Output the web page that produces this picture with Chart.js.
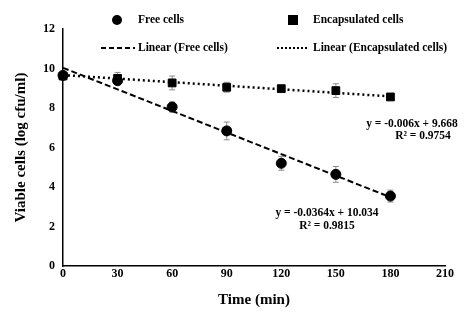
<!DOCTYPE html>
<html>
<head>
<meta charset="utf-8">
<script src="https://cdn.jsdelivr.net/npm/chart.js@4.4.1/dist/chart.umd.min.js"></script>
<style>
  html, body { margin: 0; padding: 0; background: #fff; }
  #wrap { width: 475px; height: 323px; position: relative; }
</style>
</head>
<body>
<div id="wrap"><canvas id="chart"></canvas></div>
<script>
const times = [0, 30, 60, 90, 120, 150, 180];
const freeCells = [9.65, 9.38, 8.05, 6.84, 5.2, 4.64, 3.54];
const freeErr = [0.15, 0.15, 0.25, 0.45, 0.35, 0.4, 0.3];
const encapCells = [9.62, 9.5, 9.27, 9.05, 8.98, 8.88, 8.56];
const encapErr = [0.15, 0.3, 0.35, 0.25, 0.15, 0.35, 0.15];
// trend line end points (x = 0 and x = 180)
const trendX = [0, 180];
const freeTrend = [10.034, 3.482];
const encapTrend = [9.668, 8.588];

const FONT = '"Liberation Serif", "Times New Roman", serif';

const pts = (xs, ys) => xs.map((x, i) => ({ x: x, y: ys[i] }));

const errorBars = {
  id: 'errorBars',
  beforeDatasetsDraw(chart) {
    const ctx = chart.ctx;
    const xs = chart.scales.x, ys = chart.scales.y;
    ctx.save();
    ctx.strokeStyle = '#8c8c8c';
    ctx.lineWidth = 1;
    [[freeCells, freeErr], [encapCells, encapErr]].forEach(([vals, errs]) => {
      vals.forEach((v, i) => {
        const px = xs.getPixelForValue(times[i]);
        const top = ys.getPixelForValue(v + errs[i]);
        const bot = ys.getPixelForValue(v - errs[i]);
        ctx.beginPath();
        ctx.moveTo(px, top); ctx.lineTo(px, bot);
        ctx.moveTo(px - 3, top); ctx.lineTo(px + 3, top);
        ctx.moveTo(px - 3, bot); ctx.lineTo(px + 3, bot);
        ctx.stroke();
      });
    });
    ctx.restore();
  }
};

const extras = {
  id: 'extras',
  afterDraw(chart) {
    const ctx = chart.ctx;
    ctx.save();
    ctx.fillStyle = '#000';
    ctx.strokeStyle = '#000';
    ctx.font = 'bold 11.5px ' + FONT;
    ctx.textBaseline = 'middle';
    ctx.textAlign = 'left';
    // legend
    ctx.beginPath(); ctx.arc(117, 20, 5, 0, Math.PI * 2); ctx.fill();
    ctx.fillText('Free cells', 138, 20);
    ctx.fillRect(288, 15, 10, 10);
    ctx.fillText('Encapsulated cells', 313, 20);
    ctx.lineWidth = 2;
    ctx.setLineDash([5, 3]);
    ctx.beginPath(); ctx.moveTo(101, 48); ctx.lineTo(135, 48); ctx.stroke();
    ctx.fillText('Linear (Free cells)', 138, 48);
    ctx.setLineDash([2, 2]);
    ctx.beginPath(); ctx.moveTo(277, 48); ctx.lineTo(308, 48); ctx.stroke();
    ctx.fillText('Linear (Encapsulated cells)', 313, 48);
    ctx.setLineDash([]);
    // equations
    ctx.textAlign = 'center';
    ctx.fillText('y = -0.006x + 9.668', 412, 124);
    ctx.fillText('R\u00b2 = 0.9754', 423, 136);
    ctx.fillText('y = -0.0364x + 10.034', 327, 213);
    ctx.fillText('R\u00b2 = 0.9815', 327, 226);
    ctx.restore();
  }
};

new Chart(document.getElementById('chart'), {
  type: 'scatter',
  data: {
    datasets: [
      {
        label: 'Free cells',
        data: pts(times, freeCells),
        pointStyle: 'circle',
        pointRadius: 5,
        backgroundColor: '#000',
        borderColor: '#000',
        order: 1
      },
      {
        label: 'Encapsulated cells',
        data: pts(times, encapCells),
        pointStyle: 'rect',
        pointRadius: 5.5,
        backgroundColor: '#000',
        borderColor: '#000',
        order: 0
      },
      {
        label: 'Linear (Free cells)',
        data: pts(trendX, freeTrend),
        showLine: true,
        pointRadius: 0,
        borderColor: '#000',
        borderWidth: 2,
        borderDash: [6, 3],
        order: 3
      },
      {
        label: 'Linear (Encapsulated cells)',
        data: pts(trendX, encapTrend),
        showLine: true,
        pointRadius: 0,
        borderColor: '#000',
        borderWidth: 2.5,
        borderDash: [2, 3],
        order: 2
      }
    ]
  },
  options: {
    responsive: true,
    maintainAspectRatio: false,
    animation: false,
    clip: false,
    layout: { padding: { top: 29, right: 30, left: 12, bottom: 14 } },
    plugins: {
      legend: { display: false },
      tooltip: { enabled: false }
    },
    scales: {
      x: {
        type: 'linear',
        min: 0,
        max: 210,
        ticks: { stepSize: 30, color: '#000', padding: -2, font: { family: FONT, size: 12, weight: 'bold' } },
        grid: { display: false, drawTicks: true, tickLength: 3, tickColor: '#000' },
        border: { color: '#000', width: 1.5 },
        title: { display: true, text: 'Time (min)', color: '#000', padding: { top: 0, bottom: 0 }, font: { family: FONT, size: 15, weight: 'bold' } },
        afterFit(scale) { scale.height = 43; }
      },
      y: {
        min: 0,
        max: 12,
        ticks: { stepSize: 2, color: '#000', padding: 4, font: { family: FONT, size: 12, weight: 'bold' } },
        grid: { display: false, drawTicks: true, tickLength: 4, tickColor: '#000' },
        border: { color: '#000', width: 1.5 },
        title: { display: true, text: 'Viable cells (log cfu/ml)', color: '#000', padding: { top: 0, bottom: 0 }, font: { family: FONT, size: 15, weight: 'bold' } },
        afterFit(scale) { scale.width = 51; }
      }
    }
  },
  plugins: [errorBars, extras]
});
</script>
</body>
</html>
